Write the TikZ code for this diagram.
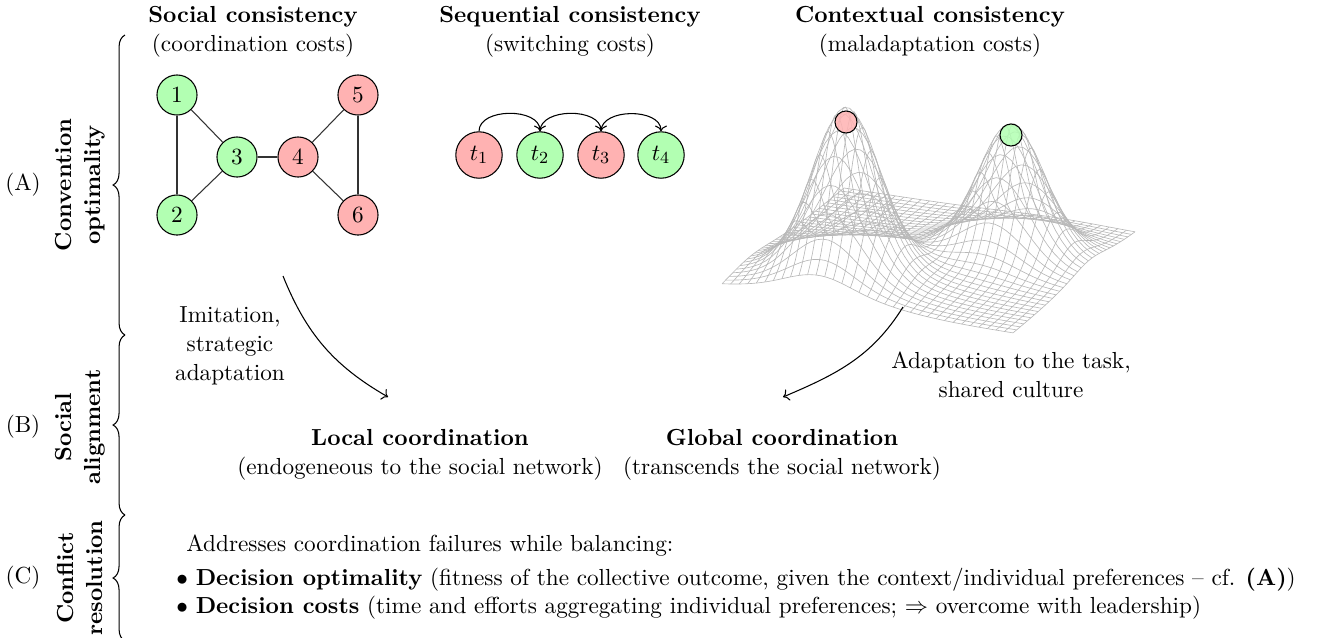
\documentclass[11pt,tikz,border=0pt]{standalone}
\usetikzlibrary{decorations.pathreplacing,arrows.meta}
\begin{document}
\begin{tikzpicture}[x=0.4717pt,y=-0.4717pt,
  gnode/.style={circle,draw,line width=0.5pt,minimum size=18.9pt,inner sep=0pt},
  tnode/.style={circle,draw,line width=0.5pt,minimum size=21.9pt,inner sep=0pt},
  gfill/.style={fill=green!30},
  rfill/.style={fill=red!30},
  edge/.style={line width=0.5pt,draw=black!80},
  conn/.style={->,line width=0.5pt},
  bracestyle/.style={decorate,decoration={brace,amplitude=5.6pt},line width=0.5pt},
  sidelab/.style={rotate=90,align=center,font=\bfseries},
  head/.style={align=center},
  meshline/.style={draw=black!28,line width=0.3pt},
  declare function={f(\u,\v)=0.88*exp(-((\u-0.67)^2+(\v-0.229)^2)/0.022)+0.15*exp(-((\u-0.67)^2+(\v-0.229)^2)/0.09)+0.7*exp(-((\u-0.27)^2+(\v-0.628)^2)/0.021)+0.1*exp(-((\u-0.27)^2+(\v-0.628)^2)/0.08);}
]
\useasboundingbox (0,0) rectangle (1331,637);

% side labels and braces
\node (LA) at (23,185) {(A)};
\node (LB) at (23,427) {(B)};
\node (LC) at (23,578) {(C)};
\node[sidelab] (NA) at (80,185) {Convention\\optimality};
\node[sidelab] (NB) at (80,427) {Social\\alignment};
\node[sidelab] (NC) at (80,578) {Conflict\\resolution};
\coordinate (bA1) at (125,335);
\coordinate (bA2) at (125,35);
\coordinate (bB1) at (125,515);
\coordinate (bB2) at (125,335);
\coordinate (bC1) at (125,641);
\coordinate (bC2) at (125,515);
\draw[bracestyle] (bA1) -- (bA2);
\draw[bracestyle] (bB1) -- (bB2);
\draw[bracestyle] (bC1) -- (bC2);

% headers
\node[head] (H1) at (253,32) {\textbf{Social consistency}\\(coordination costs)};
\node[head] (H2) at (570,32) {\textbf{Sequential consistency}\\(switching costs)};
\node[head] (H3) at (930,32) {\textbf{Contextual consistency}\\(maladaptation costs)};

% social graph
\node[gnode,gfill] (n1) at (177,95) {1};
\node[gnode,gfill] (n2) at (177,215) {2};
\node[gnode,gfill] (n3) at (237,157) {3};
\node[gnode,rfill] (n4) at (298,157) {4};
\node[gnode,rfill] (n5) at (358,95) {5};
\node[gnode,rfill] (n6) at (358,215) {6};
\draw[edge] (n1) -- (n2);
\draw[edge] (n1) -- (n3);
\draw[edge] (n2) -- (n3);
\draw[edge] (n3) -- (n4);
\draw[edge] (n4) -- (n5);
\draw[edge] (n4) -- (n6);
\draw[edge] (n5) -- (n6);

% sequential
\node[tnode,rfill] (t1) at (479,155) {$t_1$};
\node[tnode,gfill] (t2) at (540,155) {$t_2$};
\node[tnode,rfill] (t3) at (601,155) {$t_3$};
\node[tnode,gfill] (t4) at (661,155) {$t_4$};
\draw[conn] (t1.north) to[out=90,in=90] (t2.north);
\draw[conn] (t2.north) to[out=90,in=90] (t3.north);
\draw[conn] (t3.north) to[out=90,in=90] (t4.north);

% surface
\coordinate (F) at (1013,333);
\begin{scope}[shift={(F)},x={(-137.26pt,21.23pt)},y={(57.55pt,47.17pt)},z={(0pt,78.8pt)}]
  \foreach \i in {0,...,34}{
    \pgfmathsetmacro\vv{\i/34}
    \draw[meshline] plot[domain=0:1,samples=51,variable=\t] (\t,\vv,{f(\t,\vv)});
    \draw[meshline] plot[domain=0:1,samples=51,variable=\t] (\vv,\t,{f(\vv,\t)});
  }
\end{scope}
\node[circle,draw,line width=0.5pt,fill=red!30,fill opacity=0.85,draw opacity=1,minimum size=10.4pt,inner sep=0pt] (pr) at (846,122) {};
\node[circle,draw,line width=0.5pt,fill=green!30,fill opacity=0.85,draw opacity=1,minimum size=10.4pt,inner sep=0pt] (pg) at (1011,135) {};

% arrows and labels
\node[align=center] (imit) at (230,346) {Imitation,\\strategic\\adaptation};
\node[align=center] (adapt) at (1011,375) {Adaptation to the task,\\shared culture};
\coordinate (s1) at (283,276);
\coordinate (e1) at (388,397);
\coordinate (s2) at (903,307);
\coordinate (e2) at (783,397);
\draw[conn] (s1) to[out=-68,in=150] (e1);
\draw[conn] (s2) to[out=-122,in=23] (e2);

\node[head] (loc) at (420,455) {\textbf{Local coordination}\\(endogeneous to the social network)};
\node[head] (glob) at (782,455) {\textbf{Global coordination}\\(transcends the social network)};

% bottom text
\node[anchor=west,inner sep=0pt] (intro) at (186,546) {Addresses coordination failures while balancing:};
\node[anchor=west,inner sep=0pt] (b1) at (176,580) {$\bullet$ \textbf{Decision optimality} (fitness of the collective outcome, given the context/individual preferences -- cf. \textbf{(A)})};
\node[anchor=west,inner sep=0pt] (b2) at (176,608) {$\bullet$ \textbf{Decision costs} (time and efforts aggregating individual preferences; $\Rightarrow$ overcome with leadership)};
\end{tikzpicture}
\end{document}
